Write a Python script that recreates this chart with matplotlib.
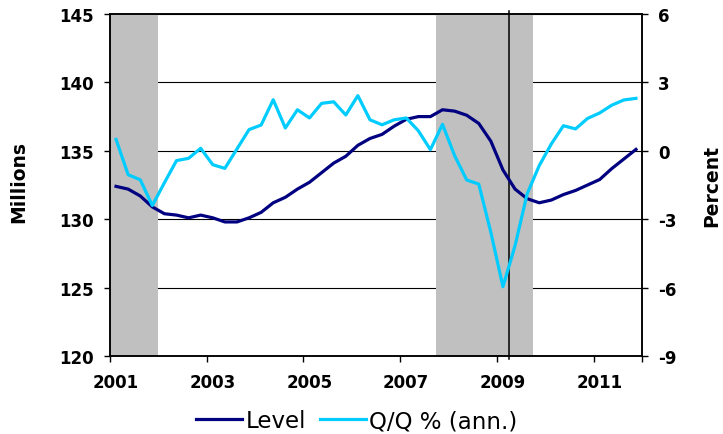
import matplotlib
matplotlib.use("Agg")
import matplotlib.pyplot as plt
import numpy as np
from matplotlib.lines import Line2D

# ---------------------------------------------------------------- data
years = list(range(2001, 2012))
quarters = [f"{y}Q{q}" for y in years for q in range(1, 5)]

# employment level, millions (left axis)
level = [132.4, 132.2, 131.7, 130.9, 130.4, 130.3, 130.1, 130.3,
         130.1, 129.8, 129.8, 130.1, 130.5, 131.2, 131.6, 132.2,
         132.7, 133.4, 134.1, 134.6, 135.4, 135.9, 136.2, 136.8,
         137.3, 137.5, 137.5, 138.0, 137.9, 137.6, 137.0, 135.7,
         133.6, 132.2, 131.5, 131.2, 131.4, 131.8, 132.1, 132.5,
         132.9, 133.7, 134.4, 135.1]

# quarter-over-quarter change, % annualised (right axis)
qq_ann = [0.5, -1.05, -1.27, -2.4, -1.4, -0.43, -0.33, 0.11,
          -0.61, -0.77, 0.08, 0.93, 1.13, 2.24, 1.0, 1.8,
          1.44, 2.08, 2.15, 1.57, 2.42, 1.36, 1.14, 1.36,
          1.44, 0.88, 0.05, 1.16, -0.21, -1.28, -1.46, -3.58,
          -5.96, -4.16, -1.89, -0.65, 0.3, 1.1, 0.96, 1.42,
          1.66, 2.0, 2.23, 2.3]

recessions = [(2001.0, 2002.0), (2007.75, 2009.75)]
marker_year = 2009.25

left_ticks = [120, 125, 130, 135, 140, 145]
right_ticks = [-9, -6, -3, 0, 3, 6]
right_labels = ["-9", "-6", "-3", "0", "3", "6"]
x_labels = [2001, 2003, 2005, 2007, 2009, 2011]

NAVY = "#000080"
LIGHT = "#00CCFF"
SHADE = "#C0C0C0"
TICK_FS = 12

plt.rcParams["font.family"] = "DejaVu Sans"

# quarter midpoints in decimal years
x = np.array([int(q[:4]) + (int(q[-1]) - 0.5) / 4 for q in quarters])

fig = plt.figure(figsize=(7.23, 4.35), dpi=100)
ax = fig.add_axes([110 / 723, 78 / 435, 532 / 723, 342 / 435])
ax2 = ax.twinx()

for a, b in recessions:
    ax.axvspan(a, b, color=SHADE, lw=0, zorder=1)

ax.set_axisbelow(True)
ax.yaxis.grid(True, color="black", linewidth=0.8)
ax.plot([marker_year, marker_year], [-0.01, 1.01], color="black", lw=1.1,
        transform=ax.get_xaxis_transform(), clip_on=False, zorder=2)
ax.plot(x, level, color=NAVY, lw=2.3, zorder=3, solid_joinstyle="round")
ax2.plot(x, qq_ann, color=LIGHT, lw=2.3, zorder=3, solid_joinstyle="round")

ax.set_xlim(2001, 2012)
ax.set_ylim(120, 145)
ax2.set_ylim(-9, 6)

ax.set_yticks(left_ticks)
ax2.set_yticks(right_ticks)
ax2.set_yticklabels(right_labels)

# ticks sit between categories, labels centred on the first quarter
ax.set_xticks(x_labels + [2012])
ax.set_xticklabels([])
ax.set_xticks([y + 0.125 for y in x_labels], minor=True)
ax.set_xticklabels([str(y) for y in x_labels], minor=True)
ax.tick_params(axis="x", which="minor", length=0, pad=12, labelsize=TICK_FS)
ax.tick_params(axis="x", which="major", length=4.5, width=1, direction="out")

for a in (ax, ax2):
    a.tick_params(labelsize=TICK_FS, width=1, length=4.5, color="black")
    for s in a.spines.values():
        s.set_color("black")
        s.set_linewidth(1.1)
    for lab in a.get_xticklabels(minor=True) + a.get_yticklabels():
        lab.set_fontweight("bold")
ax.tick_params(axis="y", pad=7.5)
ax2.tick_params(axis="y", pad=7)

fig.text(19 / 723, 1 - 182 / 435, "Millions", rotation=90, ha="center",
         va="center", fontsize=13.5, fontweight="bold")
fig.text(712 / 723, 1 - 186 / 435, "Percent", rotation=90, ha="center",
         va="center", fontsize=13.5, fontweight="bold")

handles = [Line2D([], [], color=NAVY, lw=2.3), Line2D([], [], color=LIGHT, lw=2.3)]
fig.legend(handles, ["Level", "Q/Q % (ann.)"], loc="center left",
           bbox_to_anchor=(196 / 723, 13 / 435), ncol=2, frameon=False,
           fontsize=16.5, handlelength=2.0, handletextpad=0.15,
           columnspacing=0.62, borderpad=0, borderaxespad=0)

fig.savefig("out.png", dpi=100)
